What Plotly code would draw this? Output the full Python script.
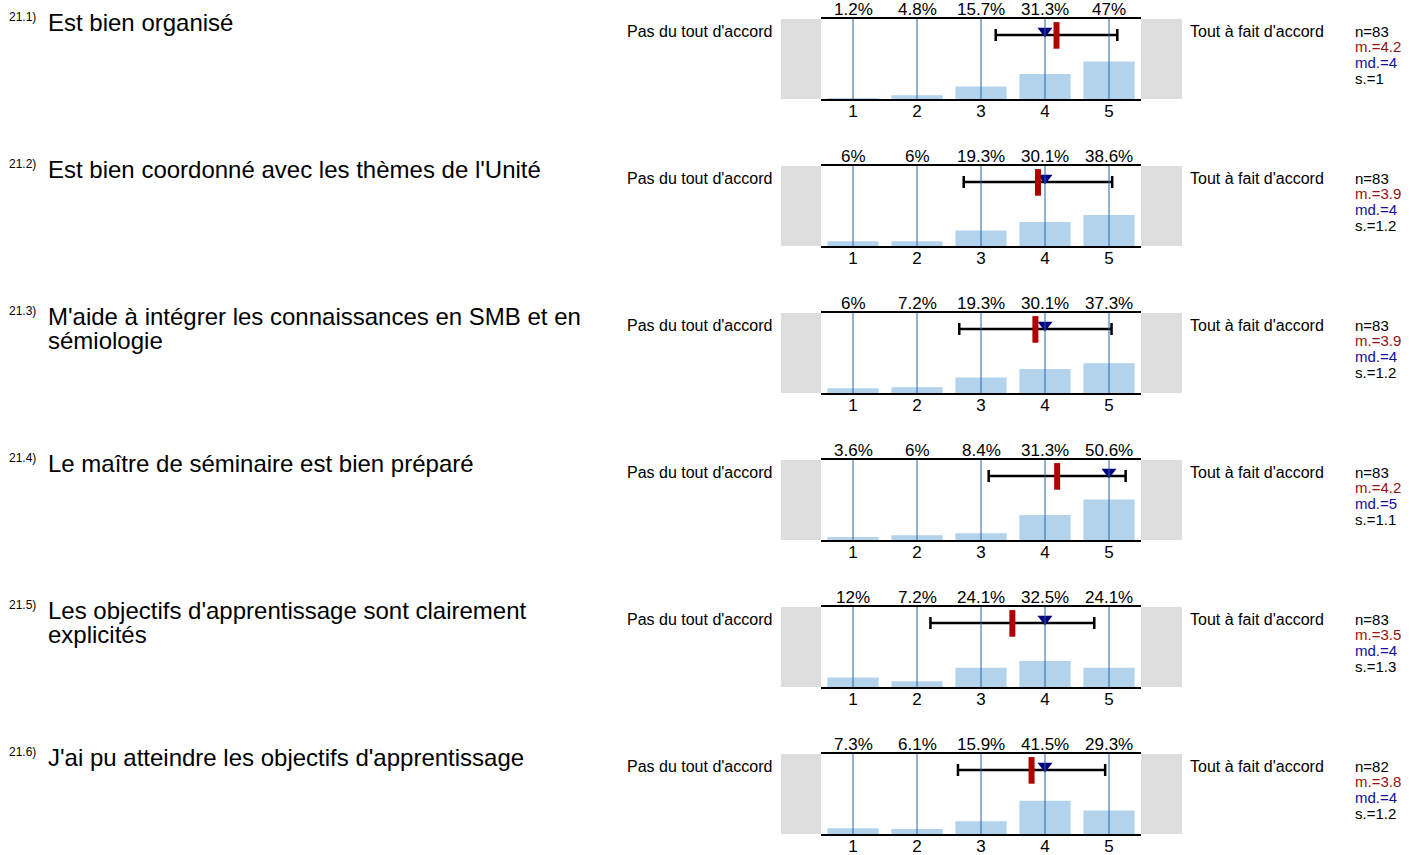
import plotly.graph_objects as go

# data
numbers = ["21.1)", "21.2)", "21.3)", "21.4)", "21.5)", "21.6)"]
questions = [
    "Est bien organisé",
    "Est bien coordonné avec les thèmes de l'Unité",
    "M'aide à intégrer les connaissances en SMB et en\nsémiologie",
    "Le maître de séminaire est bien préparé",
    "Les objectifs d'apprentissage sont clairement\nexplicités",
    "J'ai pu atteindre les objectifs d'apprentissage",
]
scale = [1, 2, 3, 4, 5]
pcts = [
    [1.2, 4.8, 15.7, 31.3, 47],
    [6, 6, 19.3, 30.1, 38.6],
    [6, 7.2, 19.3, 30.1, 37.3],
    [3.6, 6, 8.4, 31.3, 50.6],
    [12, 7.2, 24.1, 32.5, 24.1],
    [7.3, 6.1, 15.9, 41.5, 29.3],
]
n_resp = [83, 83, 83, 83, 83, 82]
means = [4.18, 3.89, 3.85, 4.19, 3.49, 3.79]
sds = [0.95, 1.16, 1.19, 1.07, 1.28, 1.15]
medians = [4, 4, 4, 5, 4, 4]
mean_lbl = ["4.2", "3.9", "3.9", "4.2", "3.5", "3.8"]
sd_lbl = ["1", "1.2", "1.2", "1.1", "1.3", "1.2"]
left_lbl = "Pas du tout d'accord"
right_lbl = "Tout à fait d'accord"

W, H = 1418, 855
FONT = "Liberation Sans, Arial, sans-serif"
BAR = "#b3d3ec"
GRID = "#2862a4"
RED = "#b00000"
NAVY = "#000080"


def px(x):
    return x / W


def py(y):
    return 1 - y / H


fig = go.Figure()
shapes = []
annotations = []

for i in range(len(questions)):
    s = "" if i == 0 else str(i + 1)
    top = 19 + 147 * i
    bottom = top + 80
    xa, ya = "x" + s, "y" + s
    yd = ya + " domain"

    fig.update_layout({
        "xaxis" + s: dict(domain=[px(821), px(1141)], range=[0.5, 5.5], anchor=ya,
                          tickvals=scale, ticks="", ticklen=0, ticklabelstandoff=-4,
                          showgrid=False, zeroline=False,
                          showline=True, mirror=True, linecolor="black", linewidth=1.5,
                          tickfont=dict(size=17, color="black"), fixedrange=True),
        "yaxis" + s: dict(domain=[py(bottom), py(top)], range=[0, 100], anchor=xa,
                          visible=False, fixedrange=True),
    })

    fig.add_trace(go.Bar(x=scale, y=pcts[i], width=0.8, marker_color=BAR,
                         marker_line_width=0, xaxis=xa, yaxis=ya, hoverinfo="skip"))
    fig.add_trace(go.Scatter(x=[means[i]], y=[80], mode="markers", xaxis=xa, yaxis=ya,
                             marker=dict(size=1, opacity=0),
                             error_x=dict(type="data", array=[sds[i]], color="black",
                                          thickness=2.5, width=6)))
    fig.add_trace(go.Scatter(x=[medians[i]], y=[85], mode="markers", xaxis=xa, yaxis=ya,
                             marker=dict(symbol="triangle-down", size=13, color=NAVY)))
    fig.add_trace(go.Scatter(x=[means[i]], y=[79.5], mode="markers", xaxis=xa, yaxis=ya,
                             marker=dict(symbol="line-ns", size=19,
                                         line=dict(width=6, color=RED))))

    # vertical guide lines at each scale point
    for c in scale:
        shapes.append(dict(type="line", xref=xa, yref=yd, x0=c, x1=c, y0=0, y1=1,
                           line=dict(color=GRID, width=1), layer="above"))
    # grey end boxes
    shapes.append(dict(type="rect", xref="paper", yref=yd, x0=px(781), x1=px(821),
                       y0=0, y1=1, fillcolor="#dddddd", line_width=0, layer="below"))
    shapes.append(dict(type="rect", xref="paper", yref=yd, x0=px(1141), x1=px(1182),
                       y0=0, y1=1, fillcolor="#dddddd", line_width=0, layer="below"))

    for c, p in zip(scale, pcts[i]):
        annotations.append(dict(x=c, y=1, xref=xa, yref=yd, text=f"{p:g}%",
                                showarrow=False, yanchor="bottom", yshift=-2,
                                font=dict(size=17, color="black")))

    annotations.append(dict(x=px(774), y=1, xref="paper", yref=yd, text=left_lbl,
                            showarrow=False, xanchor="right", yanchor="middle", yshift=-12,
                            font=dict(size=16, color="black")))
    annotations.append(dict(x=px(1188), y=1, xref="paper", yref=yd, text=right_lbl,
                            showarrow=False, xanchor="left", yanchor="middle", yshift=-12,
                            font=dict(size=16, color="black")))

    stats = [(f"n={n_resp[i]}", "black"), (f"m.={mean_lbl[i]}", "#9a1010"),
             (f"md.={medians[i]}", "#10109a"), (f"s.={sd_lbl[i]}", "black")]
    for k, (txt, col) in enumerate(stats):
        annotations.append(dict(x=px(1353), y=1, xref="paper", yref=yd, text=txt,
                                showarrow=False, xanchor="left", yanchor="middle",
                                yshift=-12 - 15.7 * k, font=dict(size=15, color=col)))

    annotations.append(dict(x=px(7), y=1, xref="paper", yref=yd, text=numbers[i],
                            showarrow=False, xanchor="left", yanchor="middle", yshift=2,
                            font=dict(size=12, color="black")))
    for k, line in enumerate(questions[i].split("\n")):
        annotations.append(dict(x=px(46), y=1, xref="paper", yref=yd, text=line,
                                showarrow=False, xanchor="left", yanchor="middle",
                                yshift=-3 - 24 * k, font=dict(size=24, color="black")))

fig.update_layout(
    width=W, height=H,
    margin=dict(l=0, r=0, t=0, b=0),
    paper_bgcolor="white", plot_bgcolor="white",
    showlegend=False,
    font=dict(family=FONT, color="black"),
    shapes=shapes,
    annotations=annotations,
)

# drop the default page margin so the figure sits at the window's corner
fig.write_html("out.html", config={"displayModeBar": False}, post_script=(
    "document.body.style.margin='0';"
    "document.body.style.overflow='hidden';"
    "document.documentElement.style.overflow='hidden';"
))
